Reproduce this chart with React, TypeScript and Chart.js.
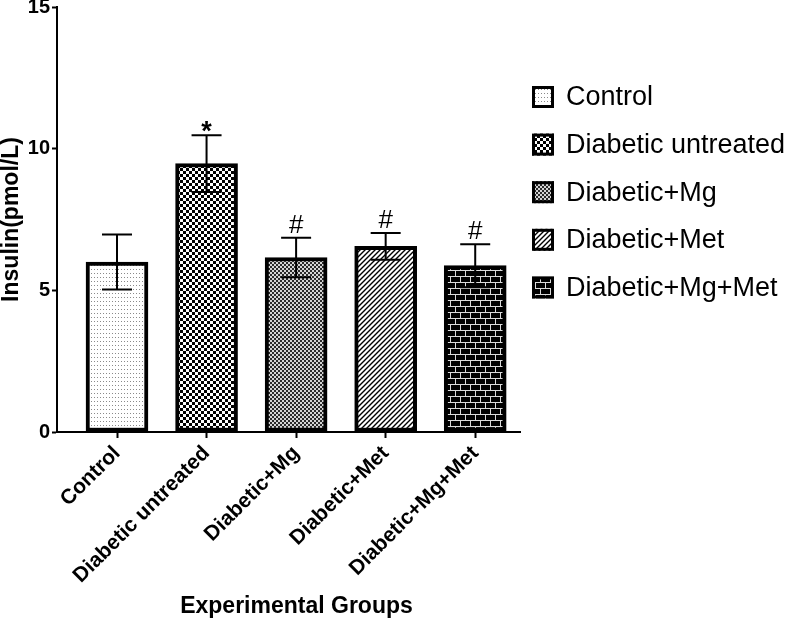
import React, { useEffect, useRef } from "react";
import { Chart, registerables } from "chart.js";

Chart.register(...registerables);

// ---- data ----
const groups = ["Control", "Diabetic untreated", "Diabetic+Mg", "Diabetic+Met", "Diabetic+Mg+Met"];
const means = [6.0, 9.47, 6.16, 6.55, 5.87];
const sem = [0.97, 1.0, 0.7, 0.47, 0.76];
const marks = ["", "*", "#", "#", "#"];
const patternKinds = ["dots", "checker", "fine", "hatch", "brick"];
const yTicks = [0, 5, 10, 15];
const xTitle = "Experimental Groups";
const yTitle = "Insulin(pmol/L)";

const FONT = "'Liberation Sans', Arial, Helvetica, sans-serif";

function makePattern(kind: string): CanvasPattern | string {
  const c = document.createElement("canvas");
  const g = c.getContext("2d");
  if (!g) return "#888";
  if (kind === "dots") {
    c.width = 3; c.height = 4;
    g.fillStyle = "#ffffff"; g.fillRect(0, 0, 3, 4);
    g.fillStyle = "#8a8a8a"; g.fillRect(1, 1, 1, 1);
  } else if (kind === "checker") {
    c.width = 6; c.height = 6;
    g.fillStyle = "#ffffff"; g.fillRect(0, 0, 6, 6);
    g.fillStyle = "#000000"; g.fillRect(0, 0, 3, 3); g.fillRect(3, 3, 3, 3);
  } else if (kind === "fine") {
    c.width = 4; c.height = 4;
    g.fillStyle = "#d4d4d4"; g.fillRect(0, 0, 4, 4);
    g.fillStyle = "#2a2a2a"; g.fillRect(0, 0, 2, 2); g.fillRect(2, 2, 2, 2);
  } else if (kind === "hatch") {
    c.width = 5; c.height = 5;
    g.fillStyle = "#ffffff"; g.fillRect(0, 0, 5, 5);
    g.strokeStyle = "#000000"; g.lineWidth = 1.4;
    g.beginPath();
    g.moveTo(-1, 6); g.lineTo(6, -1);
    g.moveTo(-1, 1); g.lineTo(1, -1);
    g.moveTo(4, 6); g.lineTo(6, 4);
    g.stroke();
  } else {
    c.width = 10; c.height = 12;
    g.fillStyle = "#000000"; g.fillRect(0, 0, 10, 12);
    g.fillStyle = "#dcdcdc";
    g.fillRect(0, 0, 10, 1); g.fillRect(0, 6, 10, 1);
    g.fillRect(0, 0, 1, 6); g.fillRect(5, 6, 1, 6);
  }
  return g.createPattern(c, "repeat") || "#888";
}

export default function App() {
  const ref = useRef<HTMLCanvasElement | null>(null);

  useEffect(() => {
    if (!ref.current) return;
    const patterns = patternKinds.map(makePattern);

    const overlay = {
      id: "overlay",
      afterDatasetsDraw(chart: any) {
        const ctx = chart.ctx;
        const xs = chart.scales.x;
        const ys = chart.scales.y;
        ctx.save();
        ctx.strokeStyle = "#000";
        ctx.lineWidth = 2;
        means.forEach((m, i) => {
          const x = xs.getPixelForValue(i);
          const yt = ys.getPixelForValue(m + sem[i]);
          const yb = ys.getPixelForValue(m - sem[i]);
          ctx.beginPath();
          ctx.moveTo(x, yt); ctx.lineTo(x, yb);
          ctx.moveTo(x - 15, yt); ctx.lineTo(x + 15, yt);
          ctx.moveTo(x - 15, yb); ctx.lineTo(x + 15, yb);
          ctx.stroke();
          const s = marks[i];
          if (s) {
            ctx.font = s === "*" ? `bold 27px ${FONT}` : `normal 26px ${FONT}`;
            ctx.fillStyle = "#000";
            ctx.textAlign = "center";
            ctx.textBaseline = "alphabetic";
            const mt = ctx.measureText(s);
            const gap = s === "*" ? 3 : 5;
            ctx.fillText(s, x, yt - gap - mt.actualBoundingBoxDescent);
          }
        });
        ctx.restore();
      },
      afterDraw(chart: any) {
        const ctx = chart.ctx;
        ctx.save();
        // x axis title
        ctx.fillStyle = "#000";
        ctx.font = `bold 23px ${FONT}`;
        ctx.textAlign = "center";
        ctx.textBaseline = "middle";
        ctx.fillText(xTitle, (chart.chartArea.left + chart.chartArea.right) / 2 + 8, 607);
        // legend
        const left = chart.chartArea.right + 12;
        groups.forEach((g, i) => {
          const cy = 97 + i * 47.6;
          const bx = left, by = cy - 11, bs = 22;
          ctx.fillStyle = patterns[i];
          ctx.fillRect(bx, by, bs, bs);
          ctx.strokeStyle = "#000";
          ctx.lineWidth = 3;
          ctx.strokeRect(bx + 1.5, by + 1.5, bs - 3, bs - 3);
          ctx.fillStyle = "#000";
          ctx.font = `normal 27px ${FONT}`;
          ctx.textAlign = "left";
          ctx.textBaseline = "middle";
          ctx.fillText(g, bx + bs + 12, cy + 1);
        });
        ctx.restore();
      },
    };

    const chart = new Chart(ref.current, {
      type: "bar",
      data: {
        datasets: [
          {
            data: means.map((m, i) => ({ x: i, y: m })),
            backgroundColor: patterns as any,
            borderColor: "#000",
            borderWidth: 4,
            borderSkipped: false,
            barThickness: 62,
          },
        ],
      },
      options: {
        animation: false,
        responsive: true,
        maintainAspectRatio: false,
        layout: { padding: { top: 7, right: 267, bottom: 0, left: 0 } },
        plugins: { legend: { display: false }, tooltip: { enabled: false } },
        scales: {
          x: {
            type: "linear",
            offset: false,
            min: -0.67,
            max: 4.5,
            afterBuildTicks: (s: any) => {
              s.ticks = groups.map((_, i) => ({ value: i }));
            },
            afterFit: (s: any) => {
              s.height = 190;
              s.paddingLeft = 0;
              s.paddingRight = 0;
            },
            ticks: {
              autoSkip: false,
              minRotation: 45,
              maxRotation: 45,
              color: "#000",
              padding: 3,
              font: { family: FONT, size: 21, weight: "bold" },
              callback: (v: any) => groups[v] ?? "",
            },
            grid: { offset: false, drawOnChartArea: false, tickLength: 6, tickColor: "#000", tickWidth: 2 },
            border: { color: "#000", width: 2 },
            title: { display: false },
          },
          y: {
            min: 0,
            max: 15,
            afterBuildTicks: (s: any) => {
              s.ticks = yTicks.map((v) => ({ value: v }));
            },
            afterFit: (s: any) => {
              s.width = 57;
              s.paddingTop = 0;
              s.paddingBottom = 0;
            },
            ticks: {
              color: "#000",
              padding: 2,
              font: { family: FONT, size: 20, weight: "bold" },
            },
            grid: { drawOnChartArea: false, tickLength: 5, tickColor: "#000", tickWidth: 2 },
            border: { color: "#000", width: 2 },
            title: {
              display: true,
              text: yTitle,
              color: "#000",
              font: { family: FONT, size: 23, weight: "bold", lineHeight: 1 },
              padding: 0,
            },
          },
        },
      },
      plugins: [overlay],
    } as any);

    return () => chart.destroy();
  }, []);

  return (
    <div style={{ position: "fixed", left: 0, top: 0, width: 787, height: 622, background: "#fff" }}>
      <canvas ref={ref} />
    </div>
  );
}
